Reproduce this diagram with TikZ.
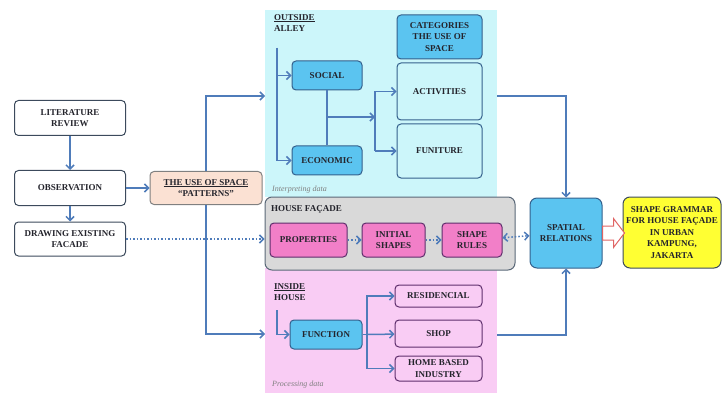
\documentclass[tikz,border=0pt]{standalone}
\usepackage{fontspec}
\setmainfont{Liberation Serif}
\usetikzlibrary{arrows.meta}
\definecolor{alleybg}{HTML}{CCF6FA}
\definecolor{housebg}{HTML}{F9CCF4}
\definecolor{facadebg}{HTML}{D9D9D9}
\definecolor{facadeline}{HTML}{5A6878}
\definecolor{bluefill}{HTML}{5BC4F0}
\definecolor{blueline}{HTML}{34608C}
\definecolor{pinkfill}{HTML}{F27FC8}
\definecolor{pinkline}{HTML}{5E2E6C}
\definecolor{peach}{HTML}{FBE1D3}
\definecolor{boxline}{HTML}{3C4A5C}
\definecolor{flowblue}{HTML}{4F7CBA}
\definecolor{arrowred}{HTML}{E06464}
\definecolor{gold}{HTML}{FFFF33}
\definecolor{ink}{HTML}{24242C}
\begin{document}
\begin{tikzpicture}[x=1pt,y=-1pt,
    font=\bfseries\fontsize{9}{11.5}\selectfont,text=ink,
    stepbox/.style={draw=boxline,line width=1pt,rounded corners=4pt,align=center,inner sep=0.5pt},
    plainbox/.style={stepbox,fill=white},
    bluebox/.style={stepbox,draw=blueline,fill=bluefill},
    pinkbox/.style={stepbox,draw=pinkline,fill=pinkfill},
    lightbox/.style={stepbox,draw=blueline,fill=alleybg},
    roombox/.style={stepbox,draw=pinkline,fill=housebg},
    flow/.style={draw=flowblue,line width=1.5pt},
    dotflow/.style={flow,dotted},
    tip/.style={-{Straight Barb[length=4pt,width=8pt]}},
    twotips/.style={{Straight Barb[length=4pt,width=8pt]}-{Straight Barb[length=4pt,width=8pt]}},
    note/.style={font=\itshape\fontsize{8}{9}\selectfont,text=gray,anchor=west,inner sep=0pt},
    title/.style={anchor=north west,align=left,inner sep=0pt}]
  \useasboundingbox (0,0) rectangle (723,393);
  % areas
  \fill[alleybg] (265,10) rectangle (497,197);
  \fill[housebg] (265,268) rectangle (497,393);
  \node[stepbox,draw=facadeline,fill=facadebg,rounded corners=7pt,
    minimum width=250,minimum height=73] (facade) at (390,233.5) {};
  % left column
  \node[plainbox,minimum width=111,minimum height=35] (lit) at (70,118) {LITERATURE\\REVIEW};
  \node[plainbox,minimum width=111,minimum height=35] (obs) at (70,188) {OBSERVATION};
  \node[plainbox,minimum width=111,minimum height=34] (drawing) at (70,239) {DRAWING EXISTING\\FACADE};
  \node[stepbox,fill=peach,draw=gray,minimum width=112,minimum height=33] (pattern) at (206,188)
    {\underline{THE USE OF SPACE}\\``PATTERNS''};
  % outside alley
  \node[title] (alley) at (274,14) {\underline{OUTSIDE}\\ALLEY};
  \node[bluebox,minimum width=70,minimum height=29] (social) at (327,75.5) {SOCIAL};
  \node[bluebox,minimum width=70,minimum height=29] (economic) at (327,160.5) {ECONOMIC};
  \node[bluebox,minimum width=85,minimum height=44] (categories) at (439.5,37) {CATEGORIES\\THE USE OF\\SPACE};
  \node[lightbox,minimum width=85,minimum height=57] (activities) at (439.5,91.5) {ACTIVITIES};
  \node[lightbox,minimum width=85,minimum height=54] (funiture) at (439.5,151) {FUNITURE};
  \node[note] (interp) at (272,190) {Interpreting data};
  \coordinate (alleytop) at (277,48);
  \coordinate (mid) at (327,117);
  \coordinate (split) at (375,117);
  \coordinate (alleyin) at (265,96);
  \coordinate (alleyout) at (497,96);
  % house facade
  \node[anchor=west,inner sep=0pt] (facadelabel) at (271,209) {HOUSE FAÇADE};
  \node[pinkbox,minimum width=77,minimum height=34] (properties) at (308.5,240) {PROPERTIES};
  \node[pinkbox,minimum width=63,minimum height=34] (initial) at (393.5,240) {INITIAL\\SHAPES};
  \node[pinkbox,minimum width=60,minimum height=34] (rules) at (472,240) {SHAPE\\RULES};
  \node[bluebox,rounded corners=7pt,minimum width=72,minimum height=70] (spatial) at (566,233) {SPATIAL\\RELATIONS};
  \node[stepbox,fill=gold,rounded corners=7pt,minimum width=98,minimum height=71] (grammar) at (672,232.5)
    {SHAPE GRAMMAR\\FOR HOUSE FAÇADE\\IN URBAN\\KAMPUNG,\\JAKARTA};
  % inside house
  \node[title] (inside) at (274,283) {\underline{INSIDE}\\HOUSE};
  \node[bluebox,minimum width=72,minimum height=29] (function) at (326,334.5) {FUNCTION};
  \node[roombox,minimum width=87,minimum height=22] (resid) at (438.5,296) {RESIDENCIAL};
  \node[roombox,minimum width=87,minimum height=27] (shop) at (438.5,333.5) {SHOP};
  \node[roombox,minimum width=87,minimum height=25] (home) at (438.5,368.5) {HOME BASED\\INDUSTRY};
  \node[note] (process) at (272,385) {Processing data};
  \coordinate (housetop) at (277,310);
  \coordinate (fork) at (367,334.5);
  \coordinate (housein) at (265,334);
  \coordinate (houseout) at (497,335);
  % connectors
  \draw[flow,tip] (lit) -- (obs);
  \draw[flow,tip] (obs) -- (drawing);
  \draw[flow,tip] (obs) -- (pattern);
  \draw[dotflow,tip] (drawing) -- (facade.west |- drawing);
  \draw[flow,tip] (pattern.north) |- (alleyin);
  \draw[flow,tip] (pattern.south) |- (housein);
  \draw[flow,tip] (alleytop) |- (social.west);
  \draw[flow,tip] (alleytop) |- (economic.west);
  \draw[flow] (social) -- (economic);
  \draw[flow,tip] (mid) -- (split);
  \draw[flow] (split |- activities) -- (split |- funiture);
  \draw[flow,tip] (split |- activities) -- (activities);
  \draw[flow,tip] (split |- funiture) -- (funiture);
  \draw[flow,tip] (alleyout) -| (spatial.north);
  \draw[dotflow,tip] (properties) -- (initial);
  \draw[dotflow,tip] (initial) -- (rules);
  \draw[dotflow,twotips] (rules) -- (spatial);
  \draw[flow,tip] (housetop) |- (function.west);
  \draw[flow] (function) -- (fork);
  \draw[flow,tip] (fork) |- (resid);
  \draw[flow,tip] (fork) -- (shop);
  \draw[flow,tip] (fork) |- (home);
  \draw[flow,tip] (houseout) -| (spatial.south);
  % hollow arrow to the result
  \draw[arrowred,fill=white,line width=1pt,line join=miter] (spatial.east) ++(0,-7) -- ++(11,0) -- ++(0,-7.5)
    -- ++(11,14.5) -- ++(-11,14.5) -- ++(0,-7.5) -- ++(-11,0) -- cycle;
\end{tikzpicture}
\end{document}
